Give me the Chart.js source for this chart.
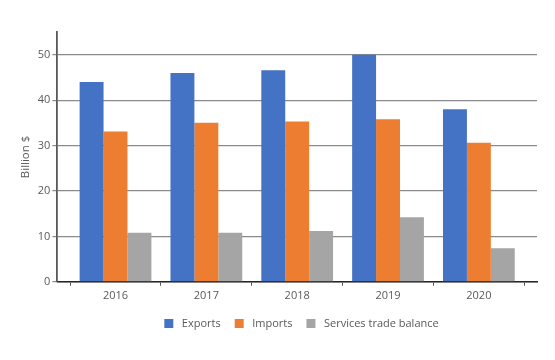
<!DOCTYPE html>
<html>
<head>
<meta charset="utf-8">
<script src="https://cdn.jsdelivr.net/npm/chart.js@4"></script>
<style>
html,body{margin:0;padding:0;background:#fff;}
#wrap{width:555px;height:360px;}
</style>
</head>
<body>
<div id="wrap"><canvas id="c" width="555" height="360"></canvas></div>
<script>
const categories = ['2016', '2017', '2018', '2019', '2020'];
const exportsVals = [44.0, 46.0, 46.6, 50.0, 38.0];
const importsVals = [33.1, 35.0, 35.3, 35.8, 30.6];
const balanceVals = [10.8, 10.8, 11.2, 14.2, 7.4];
const seriesNames = ['Exports', 'Imports', 'Services trade balance'];
const yTicks = [0, 10, 20, 30, 40, 50];

const toPts = arr => arr.map((v, i) => ({x: i, y: v}));
const FONT = "'Open Sans', 'Noto Sans', sans-serif";
const TXT = '#595959';

const legendShift = {
  id: 'legendShift',
  afterLayout(chart) {
    const lg = chart.legend;
    if (lg) { lg.left += 22; lg.right += 22; }
  }
};

new Chart(document.getElementById('c'), {
  type: 'bar',
  data: {
    datasets: [
      {label: seriesNames[0], data: toPts(exportsVals), backgroundColor: '#4472C4'},
      {label: seriesNames[1], data: toPts(importsVals), backgroundColor: '#ED7D31'},
      {label: seriesNames[2], data: toPts(balanceVals), backgroundColor: '#A5A5A5'}
    ]
  },
  plugins: [legendShift],
  options: {
    responsive: false,
    animation: false,
    devicePixelRatio: 1,
    layout: {padding: {left: 19, right: 18, top: 32, bottom: 19}},
    datasets: {bar: {categoryPercentage: 0.79, barPercentage: 1.0, borderWidth: 0}},
    plugins: {
      tooltip: {enabled: false},
      legend: {
        position: 'bottom',
        labels: {
          color: TXT,
          font: {family: FONT, size: 11},
          boxWidth: 15,
          boxHeight: 15,
          padding: 11,
          generateLabels(chart) {
            const items = Chart.defaults.plugins.legend.labels.generateLabels(chart);
            items.forEach(it => { it.strokeStyle = '#ffffff'; it.lineWidth = 6; });
            return items;
          }
        }
      }
    },
    scales: {
      x: {
        type: 'linear',
        min: -0.64,
        max: 4.64,
        offset: false,
        grid: {drawOnChartArea: false, drawTicks: true, tickLength: 4, color: '#595959'},
        border: {color: '#262626', width: 1.5},
        ticks: {
          stepSize: 1,
          includeBounds: false,
          color: TXT,
          font: {family: FONT, size: 11},
          padding: 3,
          callback: v => categories[v] !== undefined && Number.isInteger(v) ? categories[v] : ''
        }
      },
      y: {
        min: 0,
        max: 55,
        grid: {
          color: ctx => (ctx.tick && yTicks.includes(ctx.tick.value)) ? '#8a8a8a' : 'rgba(0,0,0,0)',
          lineWidth: 1.2,
          tickLength: 5
        },
        border: {color: '#595959', width: 1.8},
        ticks: {
          stepSize: 10,
          color: TXT,
          font: {family: FONT, size: 11},
          padding: 2,
          callback: v => yTicks.includes(v) ? String(v) : ''
        },
        title: {
          display: true,
          text: 'Billion $',
          color: TXT,
          font: {family: FONT, size: 11.5},
          padding: {top: 0, bottom: 3}
        }
      }
    }
  }
});
</script>
</body>
</html>
